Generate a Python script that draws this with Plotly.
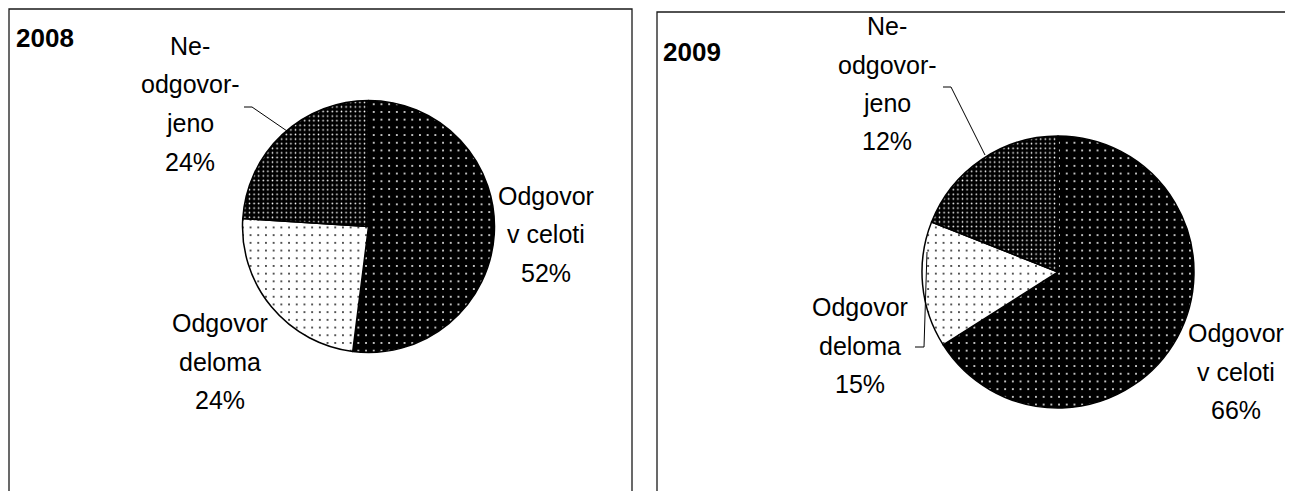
import plotly.graph_objects as go

W, H = 1293, 491
# the page body has an 8px margin; positions below are given in screenshot pixels
OX, OY = 8, 8

# ---- data ----
categories = ["Odgovor v celoti", "Odgovor deloma", "Ne-odgovorjeno"]
years = ["2008", "2009"]
# printed percentages (labels in the chart)
pct_2008 = [52, 24, 24]
pct_2009 = [66, 15, 12]
# slice shares as drawn in the picture (2009 slice for "Ne-odgovorjeno" is drawn larger than its label)
share_2008 = [52, 24, 24]
share_2009 = [66, 15, 19]

# label lines for each category (text broken like the original)
label_lines = {
    "Odgovor v celoti": ["Odgovor", "v celoti"],
    "Odgovor deloma": ["Odgovor", "deloma"],
    "Ne-odgovorjeno": ["Ne-", "odgovor-", "jeno"],
}


def px(x):
    return (x - OX) / W


def py(y):
    return 1 - (y - OY) / H


def domain(cx, cy, r):
    return dict(x=[px(cx - r), px(cx + r)], y=[py(cy + r), py(cy - r)])


pattern = dict(
    shape=[".", ".", "."],
    bgcolor=["black", "white", "black"],
    fgcolor=["white", "black", "white"],
    size=[7.7, 7.7, 4.6],
    solidity=[0.05, 0.04, 0.1],
    fillmode="replace",
)

fig = go.Figure()
pies = [(share_2008, 368.5, 226.5, 126), (share_2009, 1058, 272, 136)]
for shares, cx, cy, r in pies:
    fig.add_trace(go.Pie(
        labels=categories,
        values=shares,
        sort=False,
        direction="clockwise",
        rotation=0,
        textinfo="none",
        hoverinfo="skip",
        domain=domain(cx, cy, r),
        marker=dict(colors=["black", "white", "black"],
                    line=dict(color="black", width=1.5),
                    pattern=pattern),
        showlegend=False,
    ))

annotations = []
font = dict(family="Liberation Sans, Arial, sans-serif", size=25, color="black")
title_font = dict(family="Liberation Sans, Arial, sans-serif", size=26, color="black")

# titles
annotations.append(dict(x=px(14), y=py(38), text="<b>" + years[0] + "</b>", showarrow=False,
                        xanchor="left", yanchor="middle", font=title_font))
annotations.append(dict(x=px(661), y=py(52), text="<b>" + years[1] + "</b>", showarrow=False,
                        xanchor="left", yanchor="middle", font=title_font))

# label placement (center x, first-line y)
placements = [
    {"Odgovor v celoti": (546, 196), "Odgovor deloma": (220, 323), "Ne-odgovorjeno": (190, 46)},
    {"Odgovor v celoti": (1236, 333), "Odgovor deloma": (860, 307), "Ne-odgovorjeno": (887, 26)},
]
spacing = 38.5
for pcts, place in zip([pct_2008, pct_2009], placements):
    for cat, p in zip(categories, pcts):
        lines = label_lines[cat] + [f"{p}%"]
        x0, y0 = place[cat]
        for i, ln in enumerate(lines):
            annotations.append(dict(x=px(x0), y=py(y0 + i * spacing), text=ln, showarrow=False,
                                    xanchor="center", yanchor="middle", font=font))


def path(points):
    return "M " + " L ".join(f"{px(x)},{py(y)}" for x, y in points)


shapes = [
    # panel borders
    dict(type="rect", xref="paper", yref="paper", x0=px(9), x1=px(632), y0=py(530), y1=py(9),
         line=dict(color="#1a1a1a", width=1.3)),
    dict(type="rect", xref="paper", yref="paper", x0=px(657), x1=px(1330), y0=py(530), y1=py(12),
         line=dict(color="#1a1a1a", width=1.3)),
    # leader lines
    dict(type="path", xref="paper", yref="paper", path=path([(244, 107), (252, 107), (287, 131)]),
         line=dict(color="black", width=1)),
    dict(type="path", xref="paper", yref="paper", path=path([(943, 87), (951, 87), (985, 155)]),
         line=dict(color="black", width=1)),
    dict(type="path", xref="paper", yref="paper", path=path([(915, 347), (924, 347), (927, 252)]),
         line=dict(color="black", width=1)),
]

fig.update_layout(
    width=W, height=H,
    margin=dict(l=0, r=0, t=0, b=0),
    paper_bgcolor="white", plot_bgcolor="white",
    showlegend=False,
    annotations=annotations,
    shapes=shapes,
)

fig.write_html("out.html")
